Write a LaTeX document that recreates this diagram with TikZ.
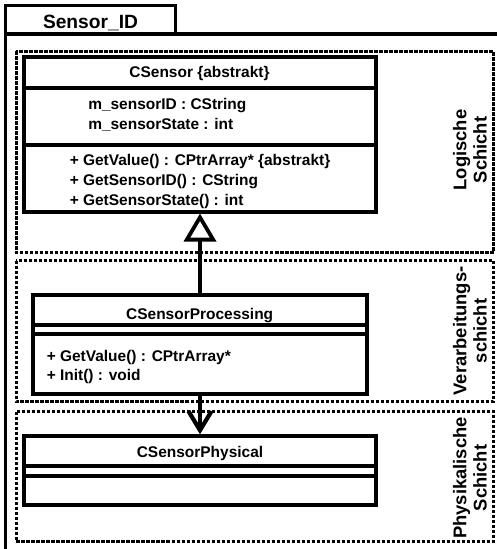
\documentclass[tikz,border=0pt]{standalone}
\usepackage{fontspec}
\setmainfont{Liberation Sans}
\usetikzlibrary{arrows.meta}

\tikzset{
  pkgline/.style={line width=3.4*0.75pt, line cap=rect},
  layerframe/.style={line width=3*0.75pt, dash pattern=on 3.3*0.75pt off 1.7*0.75pt},
  classbox/.style={draw, line width=4*0.75pt, inner sep=0pt, fill=none},
  classline/.style={line width=4*0.75pt},
  classname/.style={anchor=base, inner sep=0pt, font=\fontsize{11.6}{13}\selectfont\bfseries},
  member/.style={anchor=base west, inner sep=0pt, font=\fontsize{11.6}{13}\selectfont\bfseries},
  layerlabel/.style={rotate=90, align=center, inner sep=0pt,
    font=\fontsize{13.8}{15.2}\selectfont\bfseries},
  generalization/.style={line width=3.8*0.75pt,
    -{Triangle[open, length=28*0.75pt, width=32*0.75pt, line width=3.8*0.75pt]}},
  dependency/.style={line width=4.2*0.75pt,
    -{Straight Barb[length=19*0.75pt, width=23*0.75pt, line width=4.2*0.75pt]}},
}

\begin{document}
\begin{tikzpicture}[x=0.75pt, y=-0.75pt]
  \useasboundingbox (0,0) rectangle (496,549);
  \fill[white] (0,0) rectangle (496,549);

  % package folder: tab and body
  \draw[pkgline] (5.5,34) -- (5.5,5.5) -- (175.5,5.5) -- (175.5,34);
  \draw[pkgline] (5.5,552) -- (5.5,34) -- (499,34);
  \node[anchor=base, inner sep=0pt, font=\fontsize{14.4}{16}\selectfont\bfseries]
    (pkgname) at (90.5,29) {Sensor\_ID};

  % layer frames
  \draw[layerframe] (16,51.5) rectangle (493.5,252.3);
  \draw[layerframe] (16,260.5) rectangle (493.5,401);
  \draw[layerframe] (16,411.5) rectangle (493.5,541);

  % layer labels
  \node[layerlabel] (lbl-logic) at (470,150) {Logische\\Schicht};
  \node[layerlabel] (lbl-proc) at (470,331) {Verarbeitungs-\\schicht};
  \node[layerlabel] (lbl-phys) at (470,478) {Physikalische\\Schicht};

  % class CSensor
  \node[classbox, minimum width=352.5*0.75pt, minimum height=154.5*0.75pt]
    (csensor) at (199.75,134.25) {};
  \draw[classline] (23.5,88) -- (376,88);
  \draw[classline] (23.5,145.3) -- (376,145.3);
  \node[classname] (csensor-name) at (199.5,78) {CSensor \{abstrakt\}};
  \node[member] (csensor-a1) at (88,110) {m\_sensorID : CString};
  \node[member] (csensor-a2) at (88,130) {m\_sensorState : int};
  \node[member] (csensor-m1) at (69.5,166) {+ GetValue() : CPtrArray* \{abstrakt\}};
  \node[member] (csensor-m2) at (69.5,185.5) {+ GetSensorID() : CString};
  \node[member] (csensor-m3) at (69.5,205) {+ GetSensorState() : int};

  % class CSensorProcessing
  \node[classbox, minimum width=334*0.75pt, minimum height=99*0.75pt]
    (cproc) at (199.7,344.2) {};
  \draw[classline] (32.7,324.7) -- (366.7,324.7);
  \draw[classline] (32.7,334) -- (366.7,334);
  \node[classname] (cproc-name) at (199.7,319) {CSensorProcessing};
  \node[member] (cproc-m1) at (46.5,361.5) {+ GetValue() : CPtrArray*};
  \node[member] (cproc-m2) at (46.5,380.5) {+ Init() : void};

  % class CSensorPhysical
  \node[classbox, minimum width=352*0.75pt, minimum height=68.4*0.75pt]
    (cphys) at (200,470.5) {};
  \draw[classline] (24,466) -- (376,466);
  \draw[classline] (24,475.7) -- (376,475.7);
  \node[classname] (cphys-name) at (200,457) {CSensorPhysical};

  % relations
  \draw[generalization] (cproc.north -| 200,0) -- (csensor.south -| 200,0);
  \draw[dependency] (cproc.south -| 200,0) -- (cphys.north -| 200,0);
\end{tikzpicture}
\end{document}
